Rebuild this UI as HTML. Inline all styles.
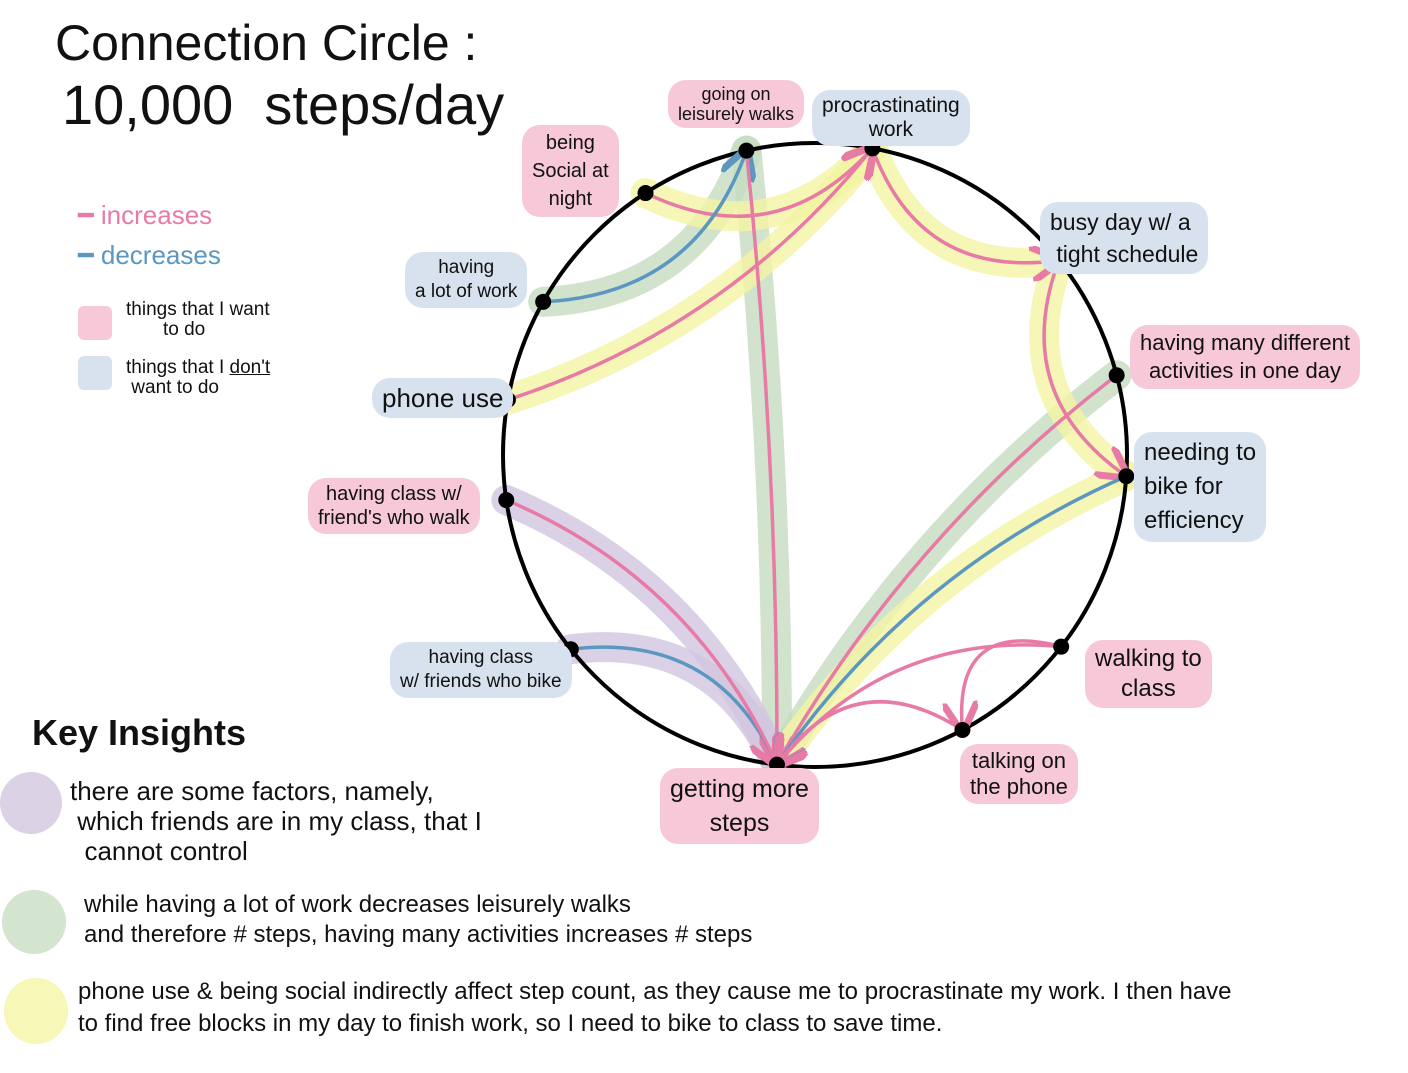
<!DOCTYPE html>
<html><head><meta charset="utf-8"><style>
body{margin:0;background:#fff;width:1408px;height:1073px;overflow:hidden;position:relative;font-family:"Liberation Sans",sans-serif;color:#111}
.t{position:absolute;white-space:nowrap}
.lab{position:absolute;border-radius:18px;padding:4px 10px;font-size:21px;line-height:24px;text-align:center;white-space:nowrap}
.p{background:#f6c8d8}.b{background:#d8e2ee}
svg{position:absolute;left:0;top:0}
</style></head><body>
<svg id="chart" width="1408" height="1073"></svg>
<div class="t" style="left:55px;top:14px;font-size:50px">Connection Circle :</div>
<div class="t" style="left:62px;top:72px;font-size:56px">10,000 &nbsp;steps/day</div>
<div class="t" style="left:78px;top:200px;font-size:26px;color:#e87aa6">━ increases</div>
<div class="t" style="left:78px;top:240px;font-size:26px;color:#5b97c0">━ decreases</div>
<div style="position:absolute;left:78px;top:306px;width:34px;height:34px;background:#f6c8d8;border-radius:6px"></div>
<div class="t" style="left:126px;top:300px;font-size:19px;line-height:20px">things that I want<br>&nbsp;&nbsp;&nbsp;&nbsp;&nbsp;&nbsp;&nbsp;to do</div>
<div style="position:absolute;left:78px;top:356px;width:34px;height:34px;background:#d8e2ee;border-radius:6px"></div>
<div class="t" style="left:126px;top:358px;font-size:19px;line-height:20px">things that I <u>don't</u><br>&nbsp;want to do</div>

<div class="lab p" style="left:668px;top:80px;font-size:18px;line-height:20px">going on<br>leisurely walks</div>
<div class="lab b" style="left:812px;top:90px">procrastinating<br>work</div>
<div class="lab p" style="left:522px;top:125px;line-height:28px;font-size:20px">being<br>Social at<br>night</div>
<div class="lab b" style="left:1040px;top:202px;font-size:23px;line-height:32px;text-align:left">busy day w/ a<br>&nbsp;tight schedule</div>
<div class="lab b" style="left:405px;top:252px;font-size:19px">having<br>a lot of work</div>
<div class="lab p" style="left:1130px;top:325px;font-size:22px;line-height:28px">having many different<br>activities in one day</div>
<div class="lab b" style="left:372px;top:378px;font-size:26px;padding:8px 10px">phone use</div>
<div class="lab b" style="left:1134px;top:432px;font-size:24px;line-height:34px;text-align:left">needing to<br>bike for<br>efficiency</div>
<div class="lab p" style="left:308px;top:478px;font-size:20px">having class w/<br>friend's who walk</div>
<div class="lab p" style="left:1085px;top:640px;font-size:24px;line-height:30px">walking to<br>class</div>
<div class="lab b" style="left:390px;top:642px;font-size:19px">having class<br>w/ friends who bike</div>
<div class="lab p" style="left:960px;top:744px;font-size:22px;line-height:26px">talking on<br>the phone</div>
<div class="lab p" style="left:660px;top:768px;font-size:25px;line-height:34px">getting more<br>steps</div>

<div class="t" style="left:32px;top:712px;font-size:36px;font-weight:bold">Key Insights</div>
<div style="position:absolute;left:0;top:772px;width:62px;height:62px;border-radius:50%;background:#dcd2e6"></div>
<div class="t" style="left:70px;top:776px;font-size:26px;line-height:30px">there are some factors, namely,<br>&nbsp;which friends are in my class, that I<br>&nbsp;&nbsp;cannot control</div>
<div style="position:absolute;left:2px;top:890px;width:64px;height:64px;border-radius:50%;background:#d3e4cf"></div>
<div class="t" style="left:84px;top:890px;font-size:24px;line-height:30px">while having a lot of work decreases leisurely walks<br>and therefore # steps, having many activities increases # steps</div>
<div style="position:absolute;left:4px;top:978px;width:64px;height:66px;border-radius:50%;background:#f7f7b8"></div>
<div class="t" style="left:78px;top:976px;font-size:24px;line-height:32px">phone use &amp; being social indirectly affect step count, as they cause me to procrastinate my work. I then have<br>to find free blocks in my day to finish work, so I need to bike to class to save time.</div>

<script>
const nodeNames=["leisurely","procrastinating","busy","many","bike","walking","talking","steps","classBike","classWalk","phone","work","social"];
const nodeAngles=[-102.7,-79.4,-38.6,-14.8,3.9,37.9,61.8,97,141.5,171.7,190.2,209.4,237.1];
const edgeFrom=[12,10,11,0,1,2,3,4,5,5,6,8,9];
const edgeTo=[1,1,0,7,2,4,7,7,6,7,7,7,7];
const edgeType=["inc","inc","dec","inc","inc","inc","inc","dec","inc","inc","inc","dec","inc"];
const bandFrom=[11,0,3,10,12,1,2,4,9,8];
const bandTo=[0,7,7,1,1,2,4,7,7,7];
const bandColor=["g","g","g","y","y","y","y","y","v","v"];
const cx=815,cy=455,r=312;
const svg=document.getElementById('chart');const NS="http://www.w3.org/2000/svg";
function pos(i){const a=nodeAngles[i]*Math.PI/180;return[cx+r*Math.cos(a),cy+r*Math.sin(a)];}
function curve(a,b,k){const p=pos(a),q=pos(b);const mx=(p[0]+q[0])/2,my=(p[1]+q[1])/2;
 const c=[mx+(cx-mx)*k,my+(cy-my)*k];return `M${p[0]},${p[1]} Q${c[0]},${c[1]} ${q[0]},${q[1]}`;}
const defs=document.createElementNS(NS,'defs');
defs.innerHTML='<marker id="mi" markerWidth="10" markerHeight="10" refX="8" refY="5" orient="auto"><path d="M0,0 L9,5 L0,10" fill="none" stroke="#e87aa6" stroke-width="2"/></marker><marker id="md" markerWidth="10" markerHeight="10" refX="8" refY="5" orient="auto"><path d="M0,0 L9,5 L0,10" fill="none" stroke="#5b97c0" stroke-width="2"/></marker>';
svg.appendChild(defs);
const bc={g:"#c5dcc0",y:"#f4f4a4",v:"#d2c6e0"};
bandFrom.forEach((f,i)=>{const p=document.createElementNS(NS,'path');


p.setAttribute('d',curve(f,bandTo[i],0.3));p.setAttribute('stroke',bc[bandColor[i]]);p.setAttribute('stroke-width','30');p.setAttribute('fill','none');p.setAttribute('opacity','0.8');p.setAttribute('stroke-linecap','round');svg.appendChild(p);});
const c=document.createElementNS(NS,'circle');


c.setAttribute('cx',cx);c.setAttribute('cy',cy);c.setAttribute('r',r);c.setAttribute('fill','none');c.setAttribute('stroke','#000');c.setAttribute('stroke-width','4');svg.appendChild(c);
edgeFrom.forEach((f,i)=>{const p=document.createElementNS(NS,'path');


const inc=edgeType[i]==="inc";
p.setAttribute('d',curve(f,edgeTo[i],0.3));p.setAttribute('stroke',inc?"#e87aa6":"#5b97c0");p.setAttribute('stroke-width','3.5');p.setAttribute('fill','none');p.setAttribute('marker-end',inc?'url(#mi)':'url(#md)');svg.appendChild(p);});
nodeAngles.forEach((a,i)=>{const q=pos(i);const d=document.createElementNS(NS,'circle');


d.setAttribute('cx',q[0]);d.setAttribute('cy',q[1]);d.setAttribute('r','8');d.setAttribute('fill','#000');svg.appendChild(d);});
</script>
</body></html>
